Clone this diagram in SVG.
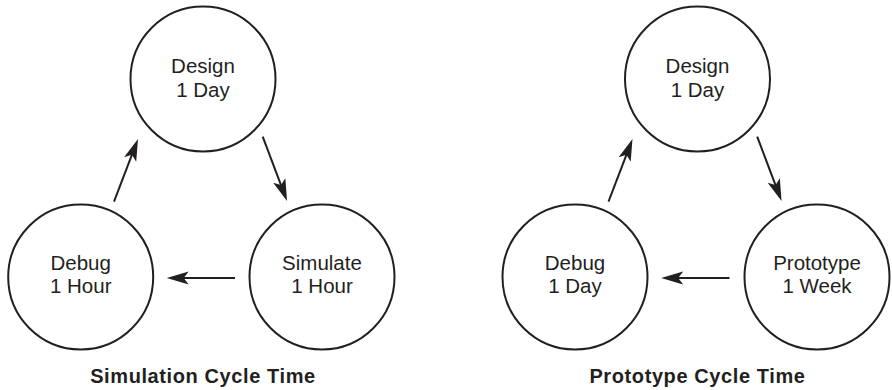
<svg xmlns="http://www.w3.org/2000/svg" width="892" height="390" viewBox="0 0 892 390">
<defs>
<marker id="ah" markerUnits="userSpaceOnUse" markerWidth="24" markerHeight="14" viewBox="0 -7 24 14" refX="10" refY="0" orient="auto">
<path d="M22,0 L0,-6.5 L5,0 L0,6.5 Z" fill="#231f20"/>
</marker>
</defs>
<style>
.n{fill:#fff;stroke:#231f20;stroke-width:2}
.t{font-family:"Liberation Sans",Arial,sans-serif;font-size:20.5px;fill:#231f20;text-anchor:middle}
.h{font-family:"Liberation Sans",Arial,sans-serif;font-size:20px;letter-spacing:0.6px;font-weight:bold;fill:#231f20;text-anchor:middle}
.c{stroke:#231f20;stroke-width:2;fill:none;marker-end:url(#ah)}
</style>
<rect width="892" height="390" fill="#fff"/>
<g id="sim-design"><circle class="n" cx="203" cy="79" r="72.5"/><text class="t" x="203" y="73">Design</text><text class="t" x="203" y="97">1 Day</text></g>
<g id="sim-debug"><circle class="n" cx="80.7" cy="277" r="72.5"/><text class="t" x="80.7" y="270">Debug</text><text class="t" x="80.7" y="293">1 Hour</text></g>
<g id="sim-simulate"><circle class="n" cx="322" cy="277" r="72.5"/><text class="t" x="322" y="270">Simulate</text><text class="t" x="322" y="293">1 Hour</text></g>
<g id="proto-design"><circle class="n" cx="697.5" cy="79" r="72.5"/><text class="t" x="697.5" y="73">Design</text><text class="t" x="697.5" y="97">1 Day</text></g>
<g id="proto-debug"><circle class="n" cx="575" cy="277" r="72.5"/><text class="t" x="575" y="270">Debug</text><text class="t" x="575" y="293">1 Day</text></g>
<g id="proto-prototype"><circle class="n" cx="817" cy="277" r="72.5"/><text class="t" x="817" y="270">Prototype</text><text class="t" x="817" y="293">1 Week</text></g>
<g id="connectors">
<line class="c" x1="114" y1="201.7" x2="133.7" y2="150.2"/>
<line class="c" x1="262.7" y1="136.7" x2="282.8" y2="189.8"/>
<line class="c" x1="235" y1="278" x2="178.7" y2="278"/>
<line class="c" x1="608.5" y1="201.7" x2="628.2" y2="150.2"/>
<line class="c" x1="757.2" y1="136.7" x2="777.3" y2="189.8"/>
<line class="c" x1="729.5" y1="278" x2="673.2" y2="278"/>
</g>
<text class="h" x="203" y="383">Simulation Cycle Time</text>
<text class="h" x="697.5" y="383">Prototype Cycle Time</text>
</svg>
